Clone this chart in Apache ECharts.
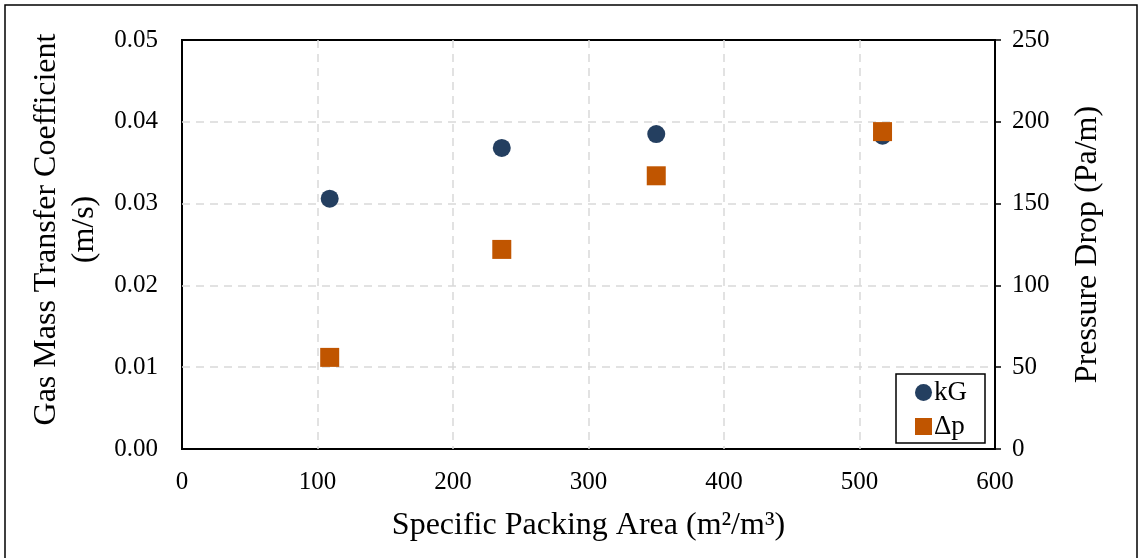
<!DOCTYPE html>
<html><head><meta charset="utf-8">
<script src="https://cdn.jsdelivr.net/npm/echarts@6/dist/echarts.min.js"></script>
<style>html,body{margin:0;padding:0;background:#fff}#c{width:1142px;height:558px}</style>
</head><body><div id="c"></div>
<script>
const area = [109, 236, 350, 517];
const kG = [0.0306, 0.0368, 0.0385, 0.0383];
const dp = [56, 122, 167, 194];
const font = 'Liberation Serif';
const grid = {color: '#d9d9d9', type: [8, 6], width: 1.5};
const chart = echarts.init(document.getElementById('c'));
chart.setOption({
  animation: false,
  textStyle: {fontFamily: font},
  grid: {left: 182, top: 40, width: 813, height: 409, show: true, borderColor: '#000', borderWidth: 2, containLabel: false},
  graphic: [{type: 'rect', shape: {x: 5, y: 5, width: 1132, height: 560}, style: {fill: 'none', stroke: '#000', lineWidth: 1.5}}],
  legend: {
    orient: 'vertical', right: 157, bottom: 115, itemWidth: 17, itemHeight: 17, itemGap: 7,
    borderColor: '#000', borderWidth: 1.5, padding: [5, 18, 3, 19],
    textStyle: {fontFamily: font, fontSize: 27, color: '#000', padding: [0, 0, 0, -3]},
    data: [{name: 'kG', icon: 'circle'}, {name: 'Δp', icon: 'rect'}]
  },
  xAxis: {
    type: 'value', min: 0, max: 600, interval: 100,
    name: 'Specific Packing Area (m²/m³)', nameLocation: 'middle', nameGap: 61,
    nameTextStyle: {fontFamily: font, fontSize: 32, color: '#000'},
    axisLine: {show: false}, axisTick: {show: false},
    axisLabel: {fontFamily: font, fontSize: 25, color: '#000', margin: 21},
    splitLine: {show: true, showMinLine: false, showMaxLine: false, lineStyle: grid}
  },
  yAxis: [{
    type: 'value', min: 0, max: 0.05, interval: 0.01,
    name: 'Gas Mass Transfer Coefficient\n(m/s)', nameLocation: 'middle', nameGap: 78, nameRotate: 90,
    nameTextStyle: {fontFamily: font, fontSize: 32, color: '#000', lineHeight: 38, padding: [0, 0, 0, 30]},
    axisLine: {show: false}, axisTick: {show: false},
    axisLabel: {fontFamily: font, fontSize: 25, color: '#000', margin: 24, formatter: v => v.toFixed(2)},
    splitLine: {show: true, showMinLine: false, showMaxLine: false, lineStyle: grid}
  }, {
    type: 'value', min: 0, max: 250, interval: 50, position: 'right',
    name: 'Pressure Drop (Pa/m)', nameLocation: 'middle', nameGap: 77, nameRotate: 90,
    nameTextStyle: {fontFamily: font, fontSize: 32, color: '#000'},
    axisLine: {show: true, lineStyle: {color: '#000', width: 2}},
    axisTick: {show: true, length: 6, lineStyle: {color: '#000', width: 1.5}},
    axisLabel: {fontFamily: font, fontSize: 25, color: '#000', margin: 17},
    splitLine: {show: false}
  }],
  series: [{
    name: 'kG', type: 'scatter', yAxisIndex: 0, symbol: 'circle', symbolSize: 18,
    itemStyle: {color: '#243f60', opacity: 1},
    data: area.map((x, i) => [x, kG[i]])
  }, {
    name: 'Δp', type: 'scatter', yAxisIndex: 1, symbol: 'rect', symbolSize: 19,
    itemStyle: {color: '#c05500', opacity: 1},
    data: area.map((x, i) => [x, dp[i]])
  }]
});
</script></body></html>
